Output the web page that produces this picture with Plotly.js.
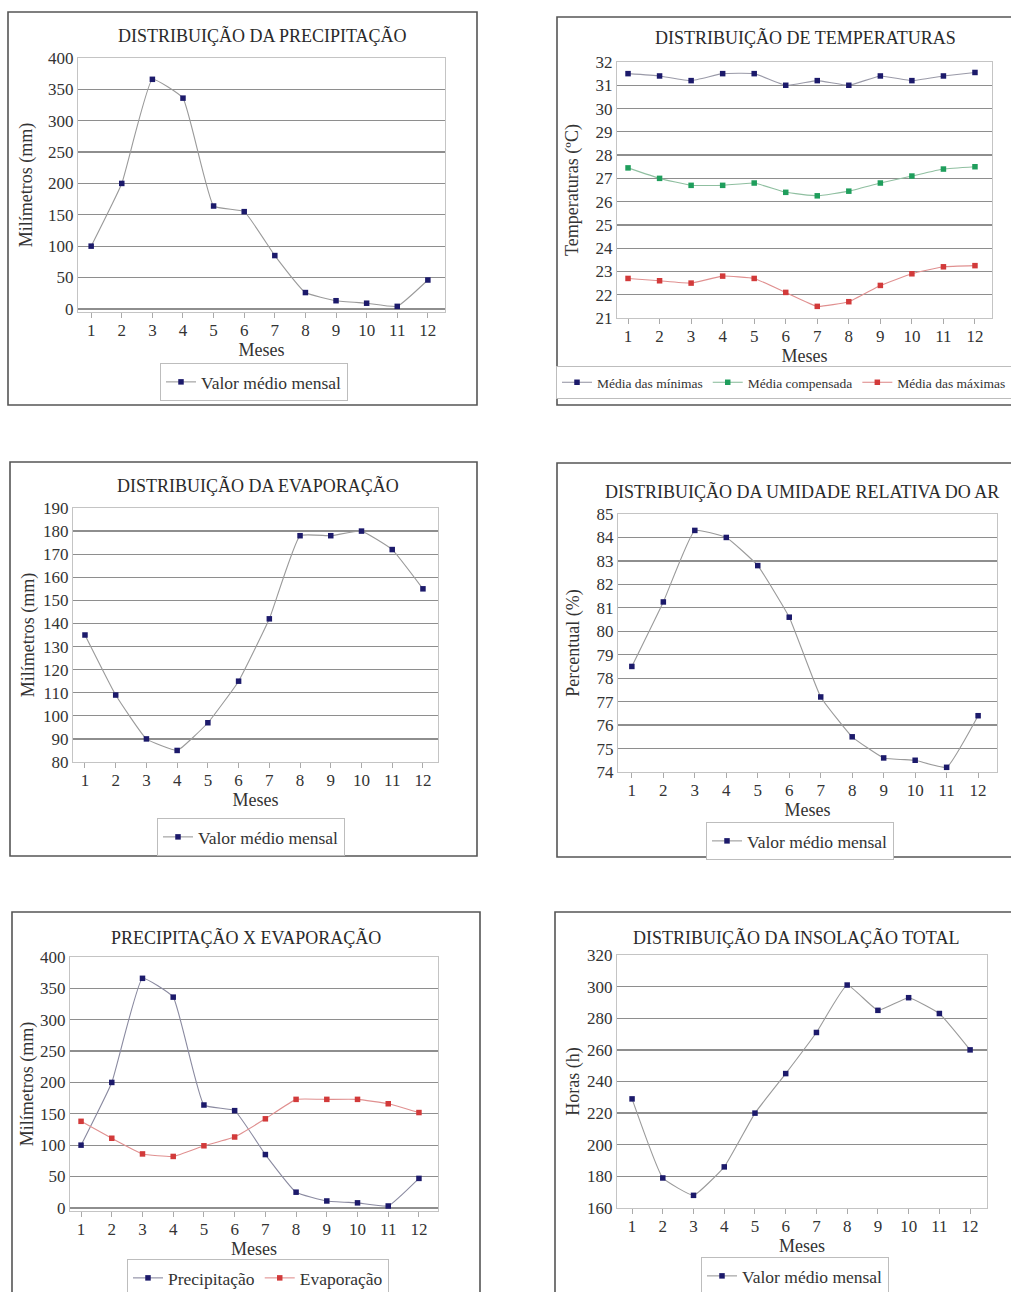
<!DOCTYPE html>
<html>
<head>
<meta charset="utf-8">
<script src="https://cdn.plot.ly/plotly-3.0.1.min.js"></script>
<style>html,body{margin:0;padding:0;background:#fff}#chart{width:1011px;height:1292px}</style>
</head>
<body>
<div id="chart"></div>
<script>
// ---- data ----
const months = [1, 2, 3, 4, 5, 6, 7, 8, 9, 10, 11, 12];
const precipitacao = [100, 200, 366, 336, 164, 155, 85, 26, 13, 9, 4, 46];
const tempMinimas = [31.5, 31.4, 31.2, 31.5, 31.5, 31.0, 31.2, 31.0, 31.4, 31.2, 31.4, 31.55];
const tempCompensada = [27.45, 27.0, 26.7, 26.7, 26.8, 26.4, 26.25, 26.45, 26.8, 27.1, 27.4, 27.5];
const tempMaximas = [22.7, 22.6, 22.5, 22.8, 22.7, 22.1, 21.5, 21.7, 22.4, 22.9, 23.2, 23.25];
const evaporacao = [135, 109, 90, 85, 97, 115, 142, 178, 178, 180, 172, 155];
const umidade = [78.5, 81.25, 84.3, 84.0, 82.8, 80.6, 77.2, 75.5, 74.6, 74.5, 74.2, 76.4];
const precipPxE = [100, 200, 366, 336, 164, 155, 85, 25, 11, 8, 3, 47];
const evapPxE = [138, 111, 86, 82, 99, 113, 142, 173, 173, 173, 166, 152];
const insolacao = [229, 179, 168, 186, 220, 245, 271, 301, 285, 293, 283, 260];

const chartTitles = [
  "DISTRIBUIÇÃO DA PRECIPITAÇÃO",
  "DISTRIBUIÇÃO DE TEMPERATURAS",
  "DISTRIBUIÇÃO DA EVAPORAÇÃO",
  "DISTRIBUIÇÃO DA UMIDADE RELATIVA DO AR",
  "PRECIPITAÇÃO X EVAPORAÇÃO",
  "DISTRIBUIÇÃO DA INSOLAÇÃO TOTAL"
];
const yTitles = ["Milímetros (mm)", "Temperaturas (ºC)", "Milímetros (mm)", "Percentual (%)", "Milímetros (mm)", "Horas (h)"];
const xTitle = "Meses";
const serieMensal = "Valor médio mensal";
const tempNames = ["Média das mínimas", "Média compensada", "Média das máximas"];
const pxeNames = ["Precipitação", "Evaporação"];

// ---- layout helpers (pixel geometry) ----
const W = 1011, H = 1292;
const fx = p => p / W;
const fy = p => 1 - p / H;

const plotBoxes = [ // [x0,x1,y0,y1] px
  [78, 445, 58, 312],
  [617, 992, 62, 318],
  [73, 438, 508, 762],
  [618, 997, 514, 772],
  [70, 438, 957, 1211],
  [617, 987, 955, 1208]
];
const xRanges = [[0.57, 12.56], [0.65, 12.54], [0.61, 12.49], [0.56, 12.6], [0.64, 12.62], [0.51, 12.55]];
const yRanges = [[-5, 400], [21, 32], [80, 190], [74, 85], [-5, 400], [160, 320]];
const yDticks = [50, 1, 10, 1, 50, 20];
const yTick0 = [0, 21, 80, 74, 0, 160];
const yStandoff = [10, 12, 3, 12, 1, 2];
const borders = [
  [8, 477, 12, 405], [557, 1020, 17, 405],
  [10, 477, 462, 856], [557, 1020, 463, 857],
  [12, 480, 912, 1300], [555, 1020, 912, 1300]
];
const titlePos = [[262, 36], [805, 37], [258, 485], [802, 492], [246, 937], [796, 937]];
const legendPos = [ // x px, top px, anchor
  [254, 363, 'center'], [556, 366, 'left'], [251, 818, 'center'],
  [800, 822, 'center'], [258, 1259, 'center'], [795, 1257, 'center']
];

const NAVY = '#1c1a6b', RED = '#d23a3a', GREEN = '#1f9e5c';
const FONT = 'Liberation Serif, Times New Roman, serif';
const TXT = '#333';

function tr(y, name, axisIdx, mcolor, lcolor, legendId) {
  const sfx = axisIdx === 1 ? '' : String(axisIdx);
  return {
    x: months, y: y, name: name, type: 'scatter', mode: 'lines+markers',
    xaxis: 'x' + sfx, yaxis: 'y' + sfx, legend: legendId,
    line: {color: lcolor, width: 1.1, shape: 'spline', smoothing: 0.35},
    marker: {color: mcolor, size: 5.5, symbol: 'square'}
  };
}

const data = [
  tr(precipitacao, serieMensal, 1, NAVY, '#9a9a9a', 'legend'),
  tr(tempMinimas, tempNames[0], 2, NAVY, '#9a9aa8', 'legend2'),
  tr(tempCompensada, tempNames[1], 2, GREEN, '#8fbfa0', 'legend2'),
  tr(tempMaximas, tempNames[2], 2, RED, '#e09090', 'legend2'),
  tr(evaporacao, serieMensal, 3, NAVY, '#9a9a9a', 'legend3'),
  tr(umidade, serieMensal, 4, NAVY, '#9a9a9a', 'legend4'),
  tr(precipPxE, pxeNames[0], 5, NAVY, '#8a8aa0', 'legend5'),
  tr(evapPxE, pxeNames[1], 5, RED, '#e09090', 'legend5'),
  tr(insolacao, serieMensal, 6, NAVY, '#9a9a9a', 'legend6')
];

const layout = {
  width: W, height: H,
  margin: {l: 0, r: 0, t: 0, b: 0, pad: 0, autoexpand: false},
  paper_bgcolor: '#fff', plot_bgcolor: '#fff',
  font: {family: FONT, color: TXT, size: 17},
  showlegend: true,
  shapes: [], annotations: []
};

for (let i = 0; i < 6; i++) {
  const sfx = i === 0 ? '' : String(i + 1);
  const b = plotBoxes[i];
  layout['xaxis' + sfx] = {
    domain: [fx(b[0]), fx(b[1])],
    anchor: 'y' + sfx,
    range: xRanges[i],
    tickmode: 'array', tickvals: months, ticktext: months.map(String),
    ticks: 'outside', ticklen: 5, tickcolor: '#aaa', tickwidth: 1,
    ticklabelstandoff: -3,
    showgrid: false, zeroline: false,
    showline: true, linecolor: '#c4c4c4', linewidth: 1.2, mirror: true,
    tickfont: {size: 17, family: FONT, color: TXT},
    title: {text: xTitle, standoff: 0, font: {size: 18, family: FONT, color: TXT}}
  };
  layout['yaxis' + sfx] = {
    domain: [fy(b[3]), fy(b[2])],
    anchor: 'x' + sfx,
    range: yRanges[i],
    tick0: yTick0[i], dtick: yDticks[i],
    ticks: '', showgrid: true, gridcolor: '#8e8e8e', gridwidth: 1.3,
    zeroline: false,
    showline: true, linecolor: '#c4c4c4', linewidth: 1.2, mirror: true,
    tickfont: {size: 17, family: FONT, color: TXT},
    title: {text: yTitles[i], standoff: yStandoff[i], font: {size: 18, family: FONT, color: TXT}}
  };
  const bd = borders[i];
  layout.shapes.push({
    type: 'rect', xref: 'paper', yref: 'paper',
    x0: fx(bd[0]), x1: fx(bd[1]), y0: fy(bd[3]), y1: fy(bd[2]),
    line: {color: '#555', width: 1.6}, fillcolor: 'rgba(0,0,0,0)', layer: 'below'
  });
  layout.annotations.push({
    text: chartTitles[i], xref: 'paper', yref: 'paper',
    x: fx(titlePos[i][0]), y: fy(titlePos[i][1]),
    xanchor: 'center', yanchor: 'middle', showarrow: false,
    font: {size: 18, family: FONT, color: '#2a2a2a'}
  });
  const lp = legendPos[i];
  const lid = i === 0 ? 'legend' : 'legend' + (i + 1);
  layout[lid] = {
    x: fx(lp[0]), y: fy(lp[1]), xanchor: lp[2], yanchor: 'top',
    orientation: 'h', xref: 'paper', yref: 'paper',
    bgcolor: '#fff', bordercolor: '#bdbdbd', borderwidth: 1,
    itemwidth: 30,
    font: {size: i === 1 ? 13.5 : 17.5, family: FONT, color: TXT}
  };
}

Plotly.newPlot('chart', data, layout, {staticPlot: true, displayModeBar: false});
</script>
</body>
</html>
